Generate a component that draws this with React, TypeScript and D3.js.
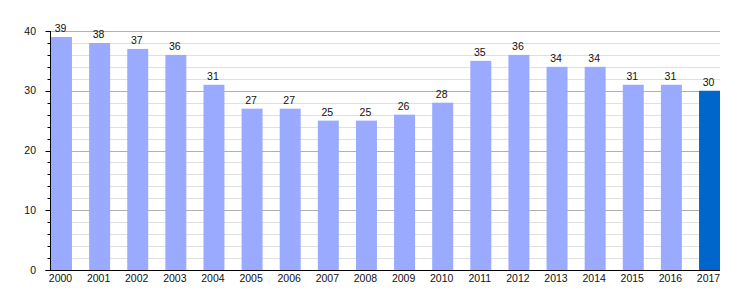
import React from "react";
import * as d3 from "d3";

const years = ["2000","2001","2002","2003","2004","2005","2006","2007","2008","2009","2010","2011","2012","2013","2014","2015","2016","2017"];
const values = [39,38,37,36,31,27,27,25,25,26,28,35,36,34,34,31,31,30];
const majorTicks = [0,10,20,30,40];
const minorTicks = [2,4,6,8,12,14,16,18,22,24,26,28,32,34,36,38];

export default function App() {
  const W = 750, H = 300;
  const left = 50.5, right = 720, top = 31, bottom = 270;
  const x = d3.scaleBand<string>().domain(years).range([51, right]).paddingInner(0.45).paddingOuter(0);
  const y = d3.scaleLinear().domain([0, 40]).range([bottom, top]);
  const font = "'Liberation Sans', Arial, sans-serif";
  return (
    <svg width={W} height={H} style={{ position: "absolute", left: 0, top: 0, background: "#fff" }} fontFamily={font}>
      {minorTicks.map(t => (
        <g key={"m" + t}>
          <line x1={left} x2={right} y1={Math.round(y(t)) + 0.5} y2={Math.round(y(t)) + 0.5} stroke="#e0e0e0" />
          <line x1={left - 3} x2={left} y1={Math.round(y(t)) + 0.5} y2={Math.round(y(t)) + 0.5} stroke="#000" />
        </g>
      ))}
      {majorTicks.map(t => (
        <g key={"M" + t}>
          {t > 0 && <line x1={left} x2={right} y1={Math.round(y(t)) + 0.5} y2={Math.round(y(t)) + 0.5} stroke="#b0b0b0" />}
          <line x1={left - 5} x2={left} y1={Math.round(y(t)) + 0.5} y2={Math.round(y(t)) + 0.5} stroke="#000" />
          <text x={36} y={y(t) + 3.5} textAnchor="end" fontSize={10.5} fill="#111">{t}</text>
        </g>
      ))}
      {years.map((yr, i) => (
        <g key={yr}>
          <rect x={x(yr)} y={y(values[i])} width={x.bandwidth()} height={bottom - y(values[i])}
            fill={i === years.length - 1 ? "#0066cc" : "#99aaff"} />
          <text x={(x(yr) as number) + x.bandwidth() / 2 - 1} y={y(values[i]) - 5} textAnchor="middle" fontSize={10.5} fill="#111">{values[i]}</text>
          <text x={(x(yr) as number) + x.bandwidth() / 2 - 1} y={282} textAnchor="middle" fontSize={10.5} fill="#111">{yr}</text>
        </g>
      ))}
      <line x1={left} x2={left} y1={top} y2={bottom + 1} stroke="#000" />
      <line x1={left - 5} x2={right} y1={bottom + 0.5} y2={bottom + 0.5} stroke="#000" />
    </svg>
  );
}
